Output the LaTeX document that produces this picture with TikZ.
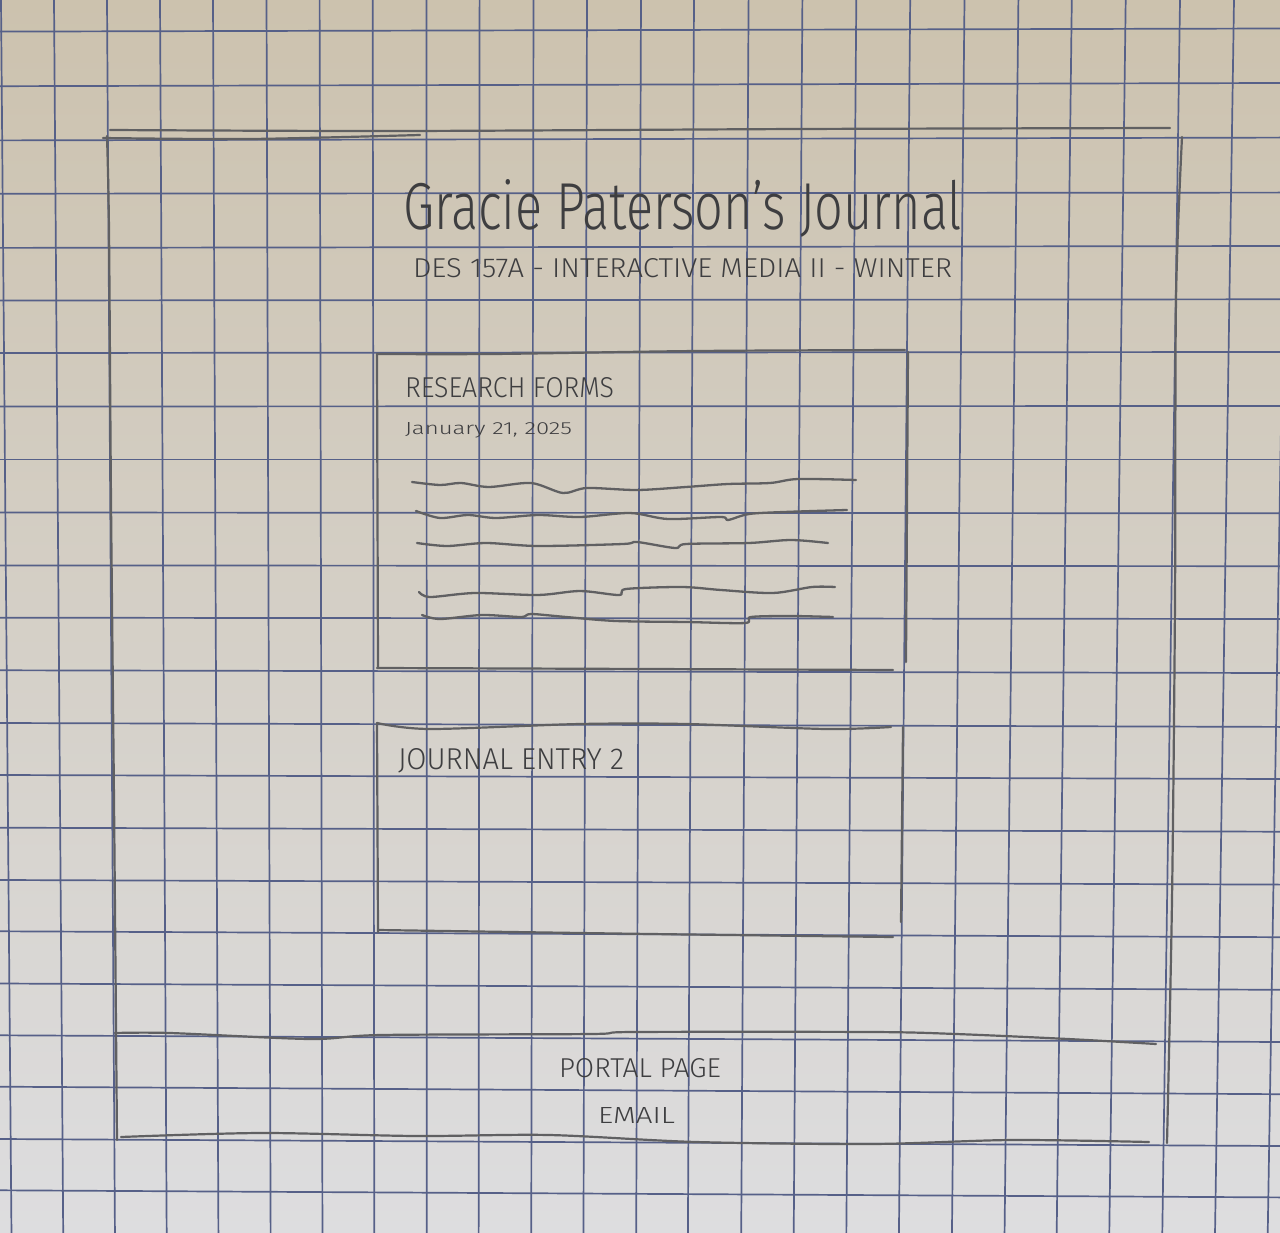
\documentclass[tikz,border=0pt]{standalone}
\usepackage{fontspec}
\newfontfamily\hand{Fira Sans}[UprightFont={* Light}]
\definecolor{paperTop}{RGB}{204,194,174}
\definecolor{paperMid}{RGB}{222,219,211}
\definecolor{paperBot}{RGB}{221,221,223}
\definecolor{gridblue}{RGB}{86,96,136}
\definecolor{pencilgray}{RGB}{96,96,98}
\definecolor{inkgray}{RGB}{62,62,64}
\tikzset{
  gridline/.style={draw=gridblue, line width=1.7pt},
  pencil/.style={draw=pencilgray, line width=2.2pt, line cap=round, line join=round},
  wave/.style={pencil, line width=2.3pt},
  script/.style={inner sep=0pt, outer sep=0pt, text=inkgray, anchor=base west},
}
% fit a handwritten-style label into a given width and height (in pt)
\newcommand{\handfit}[3]{\resizebox{#1pt}{#2pt}{\hand #3}}

\begin{document}
\begin{tikzpicture}[x=1pt,y=-1pt]
\useasboundingbox (0,0) rectangle (1280,1233);

% paper
\shade[top color=paperTop, middle color=paperMid, bottom color=paperBot]
  (0,0) rectangle (1280,1233);

% printed grid, slightly skewed by the page's tilt
\foreach \l/\r in {31.6/28.5, 86.2/83, 140.4/137.6, 193.7/192.6, 247.9/246,
  300.5/299.3, 353/352, 406.5/406, 459.5/459.5, 512.5/513.3, 565.4/566.2,
  617.7/619, 670.3/673, 723/726.9, 775/779, 827.7/831.7, 880/884.6,
  931.3/937.2, 983.5/989.8, 1035.3/1042, 1086.7/1094.2, 1139/1146, 1190.3/1197.4}
  \draw[gridline] (0,\l) -- (1280,\r);
\foreach \t in {1, 54, 107, 160, 213, 266.5, 319.6, 372.7, 426.5, 479.6, 533.5,
  587, 641, 694, 748.6, 802.4, 856.3, 910.2, 964.5, 1018.4, 1071.8, 1125.7,
  1180, 1234, 1288} {
  \pgfmathsetmacro\b{\t+10.5-0.0239*\t}
  \draw[gridline] (\t,0) -- (\b,1233);
}

% page frame
\draw[pencil] plot[smooth] coordinates {(110,130) (400,131) (800,129) (1170,128)};
\draw[pencil] plot[smooth] coordinates {(103,138) (250,139) (420,135)};
\draw[pencil] plot[smooth] coordinates {(107,136) (109,230) (111,500) (114,800) (117,1140)};
\draw[pencil] plot[smooth] coordinates {(1182,137) (1176,300) (1175,600) (1172,900) (1167,1143)};

% header texts
\node[script] (title) at (403,230) {\handfit{559}{50}{Gracie Paterson’s Journal}};
\node[script] (subtitle) at (413,278) {\handfit{539}{19}{DES 157A - INTERACTIVE MEDIA II - WINTER}};

% first entry card
\draw[pencil] plot[smooth] coordinates {(377,354) (493,354) (696,351) (905,350)};
\draw[pencil] (377,354) -- (378,668);
\draw[pencil] (908,352) -- (906,662);
\draw[pencil] plot[smooth] coordinates {(377,668) (650,669) (893,670)};
\node[script] (card1title) at (405,397) {\handfit{209}{20}{RESEARCH FORMS}};
\node[script] (card1date) at (405,434) {\handfit{167}{12}{January 21, 2025}};

% placeholder text lines
\draw[wave] plot[smooth] coordinates {(412,482) (440,485) (461,483) (489,487) (531,483)
  (563,493) (587,488) (637,490) (686,487) (728,484) (770,483) (798,479) (856,480)};
\draw[wave] plot[smooth] coordinates {(416,511) (440,518) (468,515) (496,518) (538,515)
  (580,517) (630,513) (668,519) (721,517) (728,520) (749,514) (784,512) (847,510)};
\draw[wave] plot[smooth] coordinates {(417,543) (447,546) (486,543) (538,546) (623,544)
  (637,542) (675,548) (686,544) (749,543) (791,540) (828,543)};
\draw[wave] plot[smooth] coordinates {(419,592) (430,597) (475,593) (538,595) (580,591)
  (619,595) (626,589) (682,587) (721,590) (773,593) (812,587) (835,587)};
\draw[wave] plot[smooth] coordinates {(422,615) (440,619) (482,615) (521,617) (531,614)
  (566,617) (616,621) (686,622) (745,623) (751,617) (791,616) (833,617)};

% second entry card
\draw[pencil] plot[smooth] coordinates {(377,723) (430,729) (580,724) (686,724) (826,729) (891,727)};
\draw[pencil] (377,723) -- (378,932);
\draw[pencil] (903,727) -- (901,922);
\draw[pencil] plot[smooth] coordinates {(378,930) (651,934) (893,937)};
\node[script] (card2title) at (398,769) {\handfit{226}{21}{JOURNAL ENTRY 2}};

% footer
\draw[pencil] plot[smooth] coordinates {(115,1033) (170,1033) (310,1039) (381,1035) (591,1034)
  (633,1032) (872,1032) (956,1034) (1068,1039) (1156,1044)};
\draw[pencil] plot[smooth] coordinates {(121,1137) (261,1133) (416,1136) (549,1135) (696,1142)
  (872,1144) (1012,1140) (1149,1142)};
\node[script] (footlink1) at (559,1077) {\handfit{162}{19}{PORTAL PAGE}};
\node[script] (footlink2) at (598,1123) {\handfit{77}{16}{EMAIL}};
\end{tikzpicture}
\end{document}
